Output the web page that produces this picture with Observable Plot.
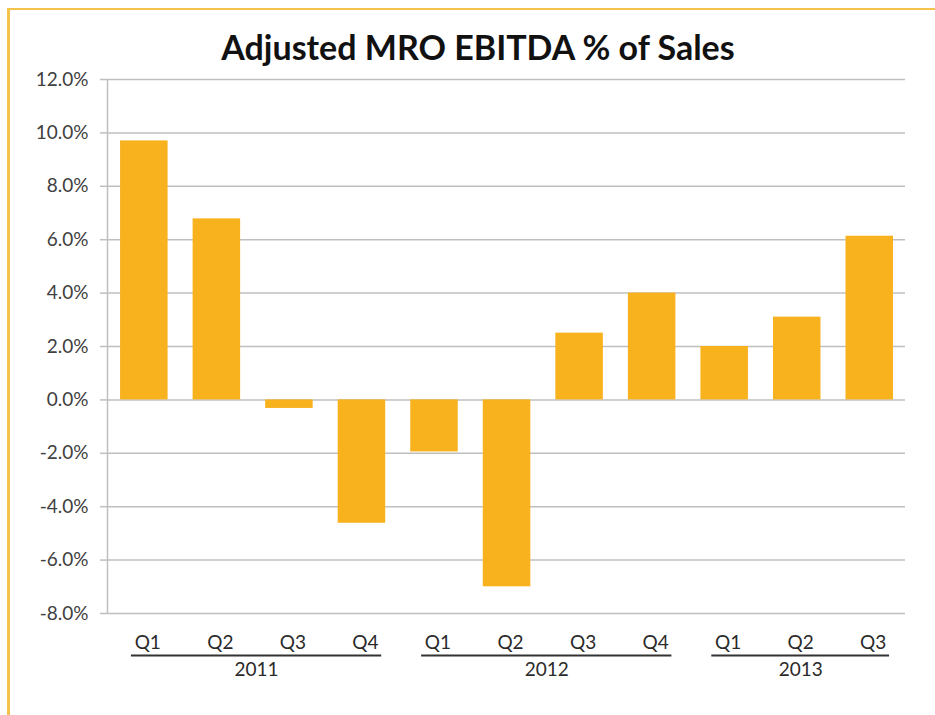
<!DOCTYPE html>
<html><head><meta charset="utf-8">
<script src="https://cdn.jsdelivr.net/npm/d3@7"></script>
<script src="https://cdn.jsdelivr.net/npm/@observablehq/plot@0.6"></script>
<style>
html,body{margin:0;padding:0;background:#fff;width:935px;height:715px;overflow:hidden;}
#frame{position:absolute;left:7px;top:8px;width:935px;height:720px;border-left:3px solid #F5C24C;border-top:2px solid #F5C24C;box-sizing:border-box;}
#title{position:absolute;left:0;top:26px;width:956px;text-align:center;font:bold 34px Lato, sans-serif;color:#111;}
#chart{position:absolute;left:0;top:66px;}
</style></head><body>
<div id="frame"></div>
<div id="title">Adjusted MRO EBITDA % of Sales</div>
<div id="chart"></div>
<script>
const years = ["2011","2011","2011","2011","2012","2012","2012","2012","2013","2013","2013"];
const quarters = ["Q1","Q2","Q3","Q4","Q1","Q2","Q3","Q4","Q1","Q2","Q3"];
const values = [9.7, 6.78, -0.32, -4.62, -1.95, -7.0, 2.5, 4.0, 2.0, 3.1, 6.13];
const yTicks = [-8, -6, -4, -2, 0, 2, 4, 6, 8, 10, 12];

const rows = values.map((v, i) => ({i, year: years[i], quarter: quarters[i], value: v}));
const groups = [];
rows.forEach(r => {
  const g = groups[groups.length - 1];
  if (g && g.year === r.year) g.end = r.i + 1;
  else groups.push({year: r.year, start: r.i, end: r.i + 1});
});

const grid = "#bfbfbf";
const chart = Plot.plot({
  width: 935,
  height: 649,
  marginTop: 13,
  marginBottom: 102,
  marginLeft: 107,
  marginRight: 30,
  style: {fontFamily: "Lato, sans-serif", fontSize: "18px", color: "#404040", background: "transparent", overflow: "visible"},
  x: {domain: [0, rows.length], axis: null},
  y: {domain: [-8, 12], axis: null},
  marks: [
    Plot.gridY(yTicks, {stroke: grid, strokeOpacity: 1, strokeWidth: 1.5}),
    Plot.ruleX([0], {stroke: grid, strokeWidth: 1.5}),
    Plot.axisY({ticks: yTicks, label: null, tickSize: 7, tickPadding: 12, stroke: grid, strokeWidth: 1.5, fill: "#404040", fontSize: 19,
      tickFormat: d => d.toFixed(1) + "%"}),
    Plot.rectY(rows, {x1: d => d.i + 0.18, x2: d => d.i + 0.835, y1: 0, y2: "value", fill: "#F7B21E"}),
    Plot.text(rows, {x: d => d.i + 0.5, text: "quarter", frameAnchor: "bottom", dy: 35, dx: 4, fill: "#2a2a2a", fontSize: 19}),
    Plot.ruleY(groups, {y: () => -8, x1: d => d.start + 0.33, x2: d => d.end - 0.22, dy: 42, stroke: "#333", strokeWidth: 2}),
    Plot.text(groups, {x: d => (d.start + d.end) / 2, text: "year", frameAnchor: "bottom", dy: 62, dx: 4, fill: "#2a2a2a", fontSize: 19})
  ]
});
document.getElementById("chart").appendChild(chart);
</script>
</body></html>
